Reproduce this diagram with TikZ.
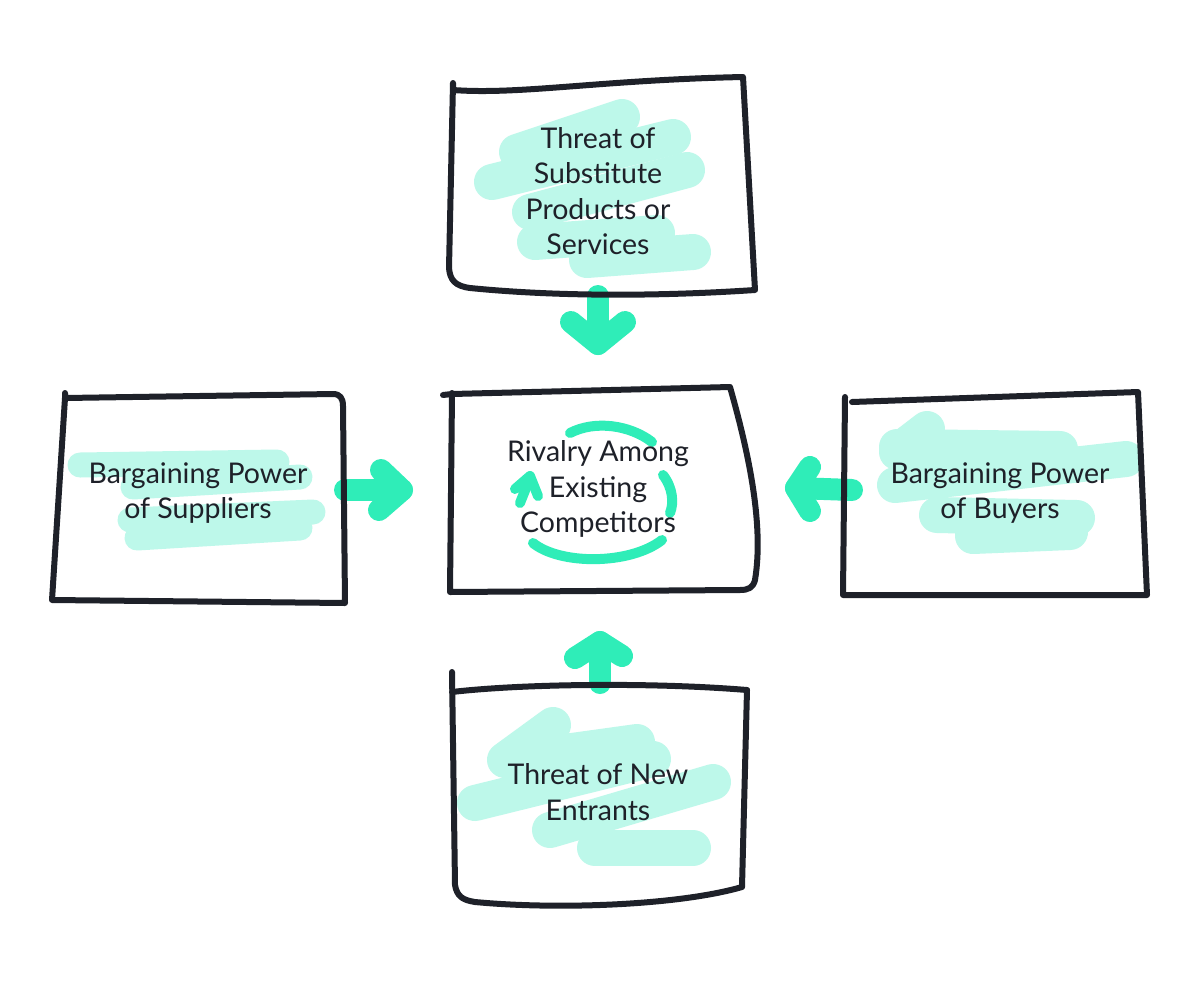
\documentclass[tikz,border=0pt]{standalone}
\usepackage{fontspec}
\setmainfont{Lato}
\usetikzlibrary{calc}
\definecolor{ink}{HTML}{1E2129}
\definecolor{mint}{HTML}{2FEDB8}
\definecolor{wash}{HTML}{BDF8EA}
\tikzset{
  sketch/.style={draw=ink, line width=6pt, line cap=round, line join=round},
  hl/.style={draw=wash, line width=36pt, line cap=round},
  fat/.style={draw=mint, line width=22pt, line cap=round, line join=round},
  cyc/.style={draw=mint, line width=10pt, line cap=round, line join=round},
  lab/.style={text=ink, align=center, font=\fontsize{28.5}{35.5}\selectfont, inner sep=0pt},
}

\begin{document}
\begin{tikzpicture}[x=1pt, y=-1pt]
  \fill[white] (0,0) rectangle (1200,986);
  \useasboundingbox (0,0) rectangle (1200,986);

  % highlighter strokes
  \draw[hl] (517,152) -- (622,117);
  \draw[hl] (492,182) -- (673,137);
  \draw[hl] (530,212) -- (687,170);
  \draw[hl] (535,242) -- (657,233);
  \draw[hl] (587,260) -- (693,252);

  \draw[hl, line width=25pt] (80,465) -- (277,462);
  \draw[hl, line width=25pt] (133,487) -- (300,477);
  \draw[hl, line width=25pt] (130,520) -- (313,512);
  \draw[hl, line width=25pt] (137,538) -- (300,528);

  \draw[hl] (927,429) -- (897,452);
  \draw[hl] (897,447) -- (1060,449);
  \draw[hl] (895,485) -- (1126,459);
  \draw[hl] (937,515) -- (1077,518);
  \draw[hl] (973,536) -- (1070,532);

  \draw[hl] (553,725) -- (505,760);
  \draw[hl] (507,760) -- (637,742);
  \draw[hl] (475,803) -- (653,759);
  \draw[hl] (550,830) -- (713,782);
  \draw[hl] (595,848) -- (693,848);

  % arrows into the centre
  \coordinate (sFrom) at (598,296);  \coordinate (sTip) at (598,344);
  \coordinate (eFrom) at (600,683);  \coordinate (eTip) at (600,642);
  \coordinate (pFrom) at (345,490);  \coordinate (pTip) at (402,490);
  \coordinate (bFrom) at (852,490);  \coordinate (bTip) at (796,488);
  \draw[fat] (sFrom) -- (sTip);
  \draw[fat] (sTip) ++(-27,-22) -- (sTip) -- ++(27,-22);
  \draw[fat] (eFrom) -- (eTip);
  \draw[fat] (eTip) ++(-25,16) -- (eTip) -- ++(22,14);
  \draw[fat] (pFrom) -- (pTip);
  \draw[fat] (pTip) ++(-21,-20) -- (pTip) -- ++(-23,20);
  \draw[fat] (bFrom) -- (bTip);
  \draw[fat] (bTip) ++(14,-21) -- (bTip) -- ++(14,23);

  % boxes
  \draw[sketch] (453,83) -- (453,90) .. controls (520,95) and (600,80) .. (743,77)
    -- (755,290) .. controls (650,297) and (550,296) .. (470,288)
    .. controls (455,286) and (450,280) .. (449,268) -- (453,83);
  \draw[sketch] (443,395) -- (452,394) -- (730,387)
    .. controls (745,440) and (765,520) .. (755,580)
    .. controls (753,588) and (748,590) .. (740,590) -- (450,592) -- (452,393);
  \draw[sketch] (65,393) -- (65,398) -- (333,394)
    .. controls (340,394) and (343,398) .. (343,406) -- (345,603) -- (52,600) -- (65,398);
  \draw[sketch] (845,397) -- (843,595) -- (1147,595) -- (1138,392) -- (852,402);
  \draw[sketch] (747,690) .. controls (650,682) and (520,684) .. (452,692);
  \draw[sketch] (452,672) -- (455,885) .. controls (457,896) and (462,900) .. (475,902)
    .. controls (560,910) and (680,905) .. (742,887) -- (747,690);

  % rivalry cycle
  \draw[cyc] (570,433) .. controls (595,420) and (630,425) .. (652,442);
  \draw[cyc] (663,475) .. controls (673,488) and (674,503) .. (670,513);
  \draw[cyc] (533,543) .. controls (560,565) and (630,565) .. (662,540);
  \draw[cyc] (520,503) -- (530,478);
  \draw[cyc] (515,489) -- (530,476) -- (538,496);

  % labels
  \node[lab] (subst) at (598,191) {Threat of\\Substitute\\Products or\\Services};
  \node[lab] (rivalry) at (598,489) {Rivalry Among\\Existing\\Competitors};
  \node[lab] (suppl) at (198,493) {Bargaining Power\\of Suppliers};
  \node[lab] (buyers) at (1000,493) {Bargaining Power\\of Buyers};
  \node[lab] (entrants) at (598,792) {Threat of New\\Entrants};
\end{tikzpicture}
\end{document}
